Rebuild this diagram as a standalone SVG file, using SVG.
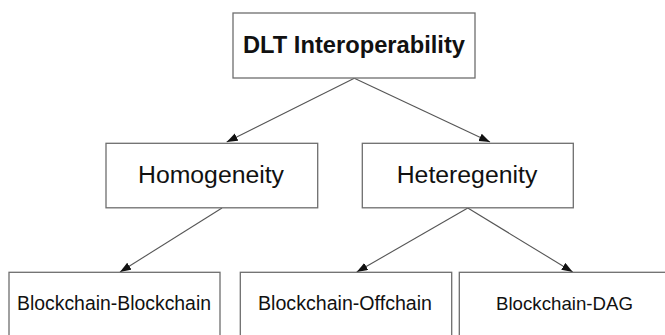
<svg xmlns="http://www.w3.org/2000/svg" width="665" height="335" viewBox="0 0 665 335">
<style>
.box{fill:#fff;stroke:#6e6e6e;stroke-width:1.3}
.t{font-family:"Liberation Sans",Arial,sans-serif;fill:#111;text-anchor:middle}
.c{stroke:#555;stroke-width:1.1;fill:none;marker-end:url(#ah)}
</style>
<defs>
<marker id="ah" markerUnits="userSpaceOnUse" markerWidth="12" markerHeight="10" refX="11" refY="4" orient="auto">
<path d="M0,0 L11,4 L0,8 Z" fill="#111"/>
</marker>
</defs>
<rect width="665" height="335" fill="#fff"/>
<g id="connectors">
<line class="c" x1="354.3" y1="78.3" x2="226.7" y2="142"/>
<line class="c" x1="354.3" y1="78.3" x2="490" y2="142"/>
<line class="c" x1="222" y1="208" x2="120" y2="272"/>
<line class="c" x1="467.8" y1="208" x2="356.7" y2="272"/>
<line class="c" x1="467.8" y1="208" x2="572.7" y2="272"/>
</g>
<g id="dlt">
<rect class="box" x="233" y="13" width="242" height="65"/>
<text class="t" x="354" y="52.7" font-size="23.5" font-weight="bold" textLength="222" lengthAdjust="spacingAndGlyphs">DLT Interoperability</text>
</g>
<g id="homogeneity">
<rect class="box" x="106" y="143.3" width="211.7" height="64.5"/>
<text class="t" x="211" y="183.3" font-size="24.8" textLength="146" lengthAdjust="spacingAndGlyphs">Homogeneity</text>
</g>
<g id="heteregenity">
<rect class="box" x="362.3" y="143.3" width="211" height="64.5"/>
<text class="t" x="467" y="183.3" font-size="24.8" textLength="140.6" lengthAdjust="spacingAndGlyphs">Heteregenity</text>
</g>
<g id="bc-bc">
<rect class="box" x="9" y="272.3" width="211" height="80"/>
<text class="t" x="114" y="310" font-size="19.4" textLength="194" lengthAdjust="spacingAndGlyphs">Blockchain-Blockchain</text>
</g>
<g id="bc-offchain">
<rect class="box" x="240.3" y="272.3" width="211.4" height="80"/>
<text class="t" x="345" y="310" font-size="19.5" textLength="174" lengthAdjust="spacingAndGlyphs">Blockchain-Offchain</text>
</g>
<g id="bc-dag">
<rect class="box" x="459.3" y="272.3" width="211" height="80"/>
<text class="t" x="564.5" y="310" font-size="19" textLength="137" lengthAdjust="spacingAndGlyphs">Blockchain-DAG</text>
</g>
</svg>
